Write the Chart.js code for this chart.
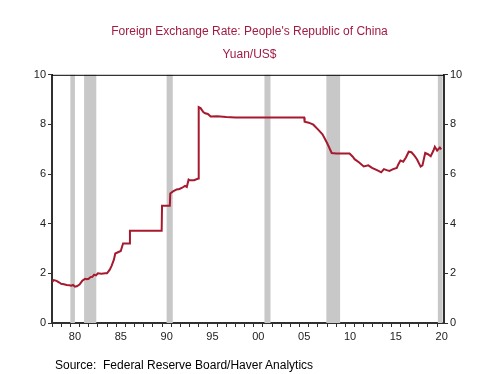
<!DOCTYPE html>
<html>
<head>
<meta charset="utf-8">
<script src="https://cdn.jsdelivr.net/npm/chart.js@4"></script>
<style>
  body { margin: 0; background: #fff; }
  #wrap { position: relative; width: 499px; height: 374px; }
  #source { position: absolute; left: 55px; top: 358px; font: 12px "Liberation Sans", Arial, sans-serif; line-height: 14px; color: #000; white-space: pre; }
</style>
</head>
<body>
<div id="wrap">
  <canvas id="fxChart" width="499" height="374"></canvas>
  <div id="source">Source:  Federal Reserve Board/Haver Analytics</div>
</div>
<script>
// Data (decimal years, yuan per US$)
const dates = [
  1978.0, 1978.2, 1978.5, 1978.8, 1979.0, 1979.3, 1979.6, 1979.9, 1980.1, 1980.3,
  1980.5, 1980.7, 1981.0, 1981.3, 1981.6, 1981.8, 1982.0, 1982.2, 1982.4, 1982.6,
  1982.8, 1983.0, 1983.4, 1983.8, 1984.0, 1984.3, 1984.5, 1984.75, 1984.9, 1985.2,
  1985.5, 1985.75, 1986.0, 1986.45, 1986.5, 1989.96, 1990.0, 1990.85, 1990.9, 1991.2,
  1991.6, 1991.9, 1992.2, 1992.5, 1992.7, 1992.9, 1993.0, 1993.5, 1993.95, 1994.0,
  1994.2, 1994.5, 1994.7, 1995.0, 1995.3, 1996.0, 1997.0, 1998.0, 2005.5, 2005.55,
  2006.0, 2006.5, 2007.0, 2007.5, 2008.0, 2008.5, 2009.0, 2010.0, 2010.45, 2010.8,
  2011.0, 2011.5, 2012.0, 2012.5, 2012.9, 2013.5, 2013.9, 2014.2, 2014.5, 2014.8,
  2015.2, 2015.6, 2015.75, 2016.0, 2016.3, 2016.6, 2016.9, 2017.2, 2017.5, 2017.8,
  2018.2, 2018.4, 2018.7, 2019.0, 2019.3, 2019.6, 2019.75, 2020.0, 2020.3, 2020.45
];
const rates = [
  1.65, 1.73, 1.70, 1.63, 1.58, 1.56, 1.53, 1.52, 1.50, 1.53,
  1.46, 1.48, 1.55, 1.70, 1.78, 1.76, 1.78, 1.85, 1.86, 1.95,
  1.92, 2.00, 1.98, 2.00, 2.00, 2.15, 2.30, 2.55, 2.80, 2.85,
  2.90, 3.20, 3.20, 3.20, 3.72, 3.72, 4.72, 4.72, 5.22, 5.30,
  5.38, 5.40, 5.45, 5.52, 5.48, 5.78, 5.76, 5.75, 5.82, 8.70,
  8.66, 8.50, 8.45, 8.42, 8.32, 8.33, 8.30, 8.28, 8.28, 8.11,
  8.07, 7.99, 7.80, 7.60, 7.25, 6.85, 6.83, 6.83, 6.83, 6.70,
  6.60, 6.47, 6.31, 6.35, 6.25, 6.15, 6.07, 6.20, 6.16, 6.13,
  6.20, 6.25, 6.38, 6.55, 6.50, 6.67, 6.90, 6.88, 6.75, 6.60,
  6.30, 6.35, 6.85, 6.80, 6.72, 6.95, 7.10, 6.95, 7.07, 7.00
];

// Recession periods (start, end)
const recessionStarts = [1980.0, 1981.5, 1990.5, 2001.17, 2007.92, 2020.08];
const recessionEnds   = [1980.5, 1982.83, 1991.17, 2001.83, 2009.42, 2020.6];

const labelYears = [1980, 1985, 1990, 1995, 2000, 2005, 2010, 2015, 2020];
const yTicks = [0, 2, 4, 6, 8, 10];

const FONT = '"Liberation Sans", Arial, sans-serif';
const TITLE_COLOR = '#a01c44';
const LINE_COLOR = '#a6192e';
const AXIS_COLOR = '#303030';

// Shaded recession bars behind the line
const recessionBars = {
  id: 'recessionBars',
  beforeDatasetsDraw(chart) {
    const { ctx, chartArea, scales } = chart;
    ctx.save();
    ctx.fillStyle = '#c8c8c8';
    for (let i = 0; i < recessionStarts.length; i++) {
      let x1 = scales.x.getPixelForValue(recessionStarts[i]);
      let x2 = scales.x.getPixelForValue(recessionEnds[i]);
      x1 = Math.max(x1, chartArea.left);
      x2 = Math.min(x2, chartArea.right);
      ctx.fillRect(x1, chartArea.top, x2 - x1, chartArea.bottom - chartArea.top);
    }
    ctx.restore();
  }
};

// Top frame line
const topFrame = {
  id: 'topFrame',
  afterDraw(chart) {
    const { ctx, chartArea } = chart;
    ctx.save();
    ctx.strokeStyle = '#000';
    ctx.lineWidth = 1;
    ctx.beginPath();
    ctx.moveTo(chartArea.left, chartArea.top + 0.5);
    ctx.lineTo(chartArea.right, chartArea.top + 0.5);
    ctx.stroke();
    ctx.restore();
  }
};

const yAxis = (pos, width) => ({
  type: 'linear',
  position: pos,
  min: 0,
  max: 10,
  afterBuildTicks: (scale) => { scale.ticks = yTicks.map(v => ({ value: v })); },
  afterFit: (scale) => { scale.width = width; },
  ticks: { color: '#222', font: { family: FONT, size: 11 }, padding: 2 },
  grid: { drawOnChartArea: false, drawTicks: true, tickLength: 4, color: AXIS_COLOR },
  border: { display: true, color: AXIS_COLOR, width: 2 }
});

new Chart(document.getElementById('fxChart'), {
  type: 'line',
  data: {
    datasets: [{
      data: dates.map((d, i) => ({ x: d, y: rates[i] })),
      borderColor: LINE_COLOR,
      borderWidth: 2,
      pointRadius: 0,
      tension: 0,
      fill: false
    }]
  },
  options: {
    responsive: false,
    animation: false,
    layout: { padding: { left: 0, right: 0, top: 0, bottom: 27 } },
    plugins: {
      legend: { display: false },
      tooltip: { enabled: false },
      title: {
        display: true,
        text: "Foreign Exchange Rate: People's Republic of China",
        color: TITLE_COLOR,
        font: { family: FONT, size: 12, weight: 'normal' },
        padding: { top: 24, bottom: 9 }
      },
      subtitle: {
        display: true,
        text: 'Yuan/US$',
        color: TITLE_COLOR,
        font: { family: FONT, size: 12, weight: 'normal' },
        padding: { top: 0, bottom: 13 }
      }
    },
    scales: {
      x: {
        type: 'linear',
        min: 1978,
        max: 2020.75,
        afterBuildTicks: (scale) => {
          const t = [];
          for (let yr = 1978; yr <= 2020; yr++) t.push({ value: yr });
          scale.ticks = t;
        },
        afterFit: (scale) => { scale.height = 24; },
        ticks: {
          autoSkip: false,
          maxRotation: 0,
          color: '#222',
          font: { family: FONT, size: 11 },
          padding: 3,
          labelOffset: 4.6,
          callback: (v) => labelYears.includes(v) ? String(v).slice(2) : ''
        },
        grid: { drawOnChartArea: false, drawTicks: true, tickLength: 4, color: AXIS_COLOR },
        border: { display: true, color: AXIS_COLOR, width: 2 }
      },
      y: yAxis('left', 52),
      y2: yAxis('right', 55)
    }
  },
  plugins: [recessionBars, topFrame]
});
</script>
</body>
</html>
